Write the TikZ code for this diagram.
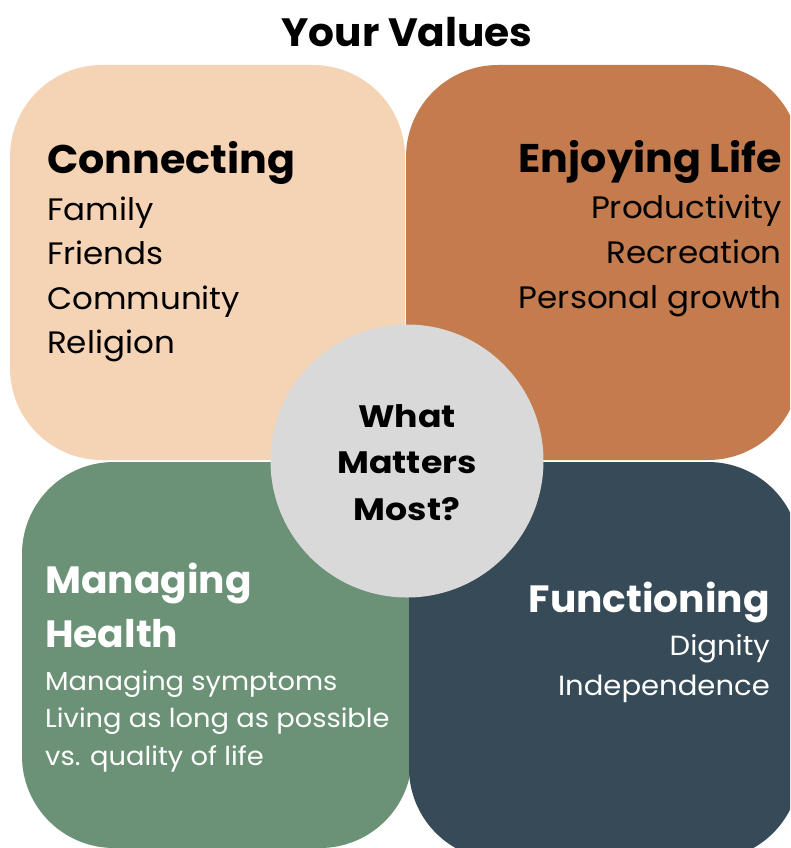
\documentclass[tikz,border=0pt]{standalone}
\usepackage{fontspec}
\setmainfont{Poppins}[FakeStretch=1.05]
\newfontfamily\headfont{Poppins}[FakeStretch=1.03]
\newfontfamily\discfont{Poppins}[FakeStretch=1.12]
\definecolor{peach}{HTML}{F5D3B5}
\definecolor{clay}{HTML}{C47B4E}
\definecolor{sage}{HTML}{6B9176}
\definecolor{slate}{HTML}{364B57}
\definecolor{mist}{HTML}{D9D9D9}
\tikzset{
  tile/.style={rounded corners=92pt},
  head/.style={inner sep=0pt, font=\headfont\bfseries\fontsize{40}{40}\selectfont},
  item/.style={inner sep=0pt, font=\fontsize{31}{31}\selectfont},
  smallhead/.style={inner sep=0pt, font=\headfont\bfseries\fontsize{38}{38}\selectfont},
  smallitem/.style={inner sep=0pt, font=\fontsize{26}{26}\selectfont},
  miditem/.style={inner sep=0pt, font=\fontsize{27.7}{27.7}\selectfont},
  question/.style={anchor=base, inner sep=0pt, font=\discfont\bfseries\fontsize{31}{31}\selectfont},
}
\begin{document}
\begin{tikzpicture}[x=1pt,y=-1pt]
\useasboundingbox (0,0) rectangle (790,848);
\clip (0,0) rectangle (790,848);
% four value tiles
\fill[peach,tile] (10,65) rectangle (405,460);
\fill[clay,tile] (406,65) rectangle (800,460);
\fill[sage,tile] (22,462) rectangle (412,848);
\fill[slate,tile] (409,462) rectangle (800,860);
% centre disc
\node[circle, fill=mist, minimum size=273pt, inner sep=0pt] (core) at (407,461) {};
% title
\node[anchor=base, inner sep=0pt, font=\headfont\bfseries\fontsize{39.5}{39.5}\selectfont] (title) at (407,47) {Your Values};
% connecting
\node[head, anchor=base west] (conn) at (47,173) {Connecting};
\node[item, anchor=base west] (c1) at (47,220) {Family};
\node[item, anchor=base west] (c2) at (47,264) {Friends};
\node[item, anchor=base west] (c3) at (47,309) {Community};
\node[item, anchor=base west] (c4) at (47,353) {Religion};
% enjoying life
\node[head, anchor=base east] (enjoy) at (782,172) {Enjoying Life};
\node[item, anchor=base east] (e1) at (782,218) {Productivity};
\node[item, anchor=base east] (e2) at (782,263) {Recreation};
\node[item, anchor=base east] (e3) at (782,308) {Personal growth};
% centre question
\node[question] (q1) at (407,427) {What};
\node[question] (q2) at (407,473) {Matters};
\node[question] (q3) at (407,520) {Most?};
% managing health
\node[smallhead, anchor=base west, text=white] (mh1) at (45,593) {Managing};
\node[smallhead, anchor=base west, text=white] (mh2) at (45,647) {Health};
\node[smallitem, anchor=base west, text=white] (m1) at (45,690) {Managing symptoms};
\node[smallitem, anchor=base west, text=white] (m2) at (45,727) {Living as long as possible};
\node[smallitem, anchor=base west, text=white] (m3) at (45,765) {vs. quality of life};
% functioning
\node[smallhead, anchor=base east, text=white] (func) at (770,612) {Functioning};
\node[miditem, anchor=base east, text=white] (f1) at (770,655) {Dignity};
\node[miditem, anchor=base east, text=white] (f2) at (770,695) {Independence};
\end{tikzpicture}
\end{document}
